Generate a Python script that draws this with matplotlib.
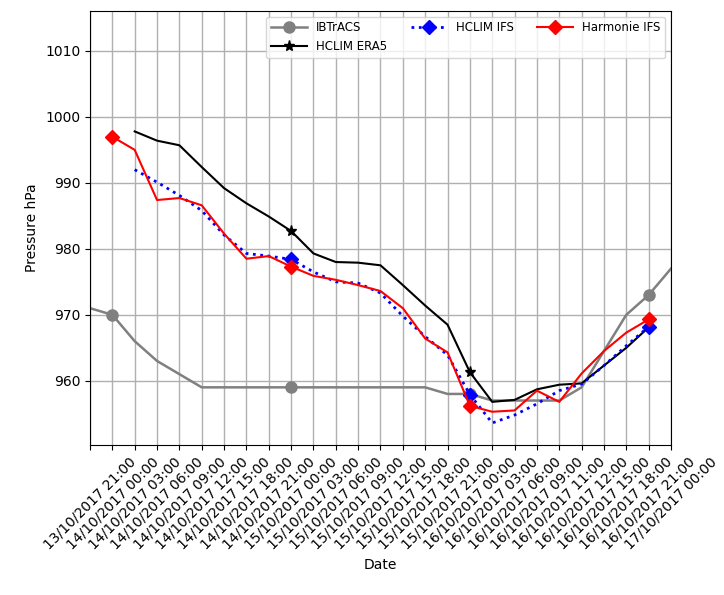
import matplotlib
matplotlib.use("Agg")
import matplotlib.pyplot as plt
import numpy as np

nan = np.nan

# Tick labels (categorical date axis)
dates = ["13/10/2017 21:00",
         "14/10/2017 00:00", "14/10/2017 03:00", "14/10/2017 06:00", "14/10/2017 09:00",
         "14/10/2017 12:00", "14/10/2017 15:00", "14/10/2017 18:00", "14/10/2017 21:00",
         "15/10/2017 00:00", "15/10/2017 03:00", "15/10/2017 06:00", "15/10/2017 09:00",
         "15/10/2017 12:00", "15/10/2017 15:00", "15/10/2017 18:00", "15/10/2017 21:00",
         "16/10/2017 00:00", "16/10/2017 03:00", "16/10/2017 06:00", "16/10/2017 09:00",
         "16/10/2017 11:00", "16/10/2017 12:00", "16/10/2017 15:00", "16/10/2017 18:00",
         "16/10/2017 21:00", "17/10/2017 00:00"]

# Minimum sea level pressure (hPa)
ibtracs = [971, 970, 966, 963, 961, 959, 959, 959, 959, 959, 959, 959, 959, 959,
           959, 959, 958, 958, 957, 957, 957, 957, 959, 964.5, 970, 973, 977]
hclim_era5 = [nan, nan, 997.8, 996.4, 995.7, 992.4, 989.2, 986.9, 984.9, 982.7,
              979.3, 978.0, 977.9, 977.5, 974.5, 971.4, 968.5, 961.3, 956.8, 957.1,
              958.7, 959.4, 959.6, 962.3, 965.0, 968.1, nan]
hclim_ifs = [nan, nan, 992.0, 990.1, 988.1, 985.8, 982.1, 979.3, 978.9, 978.4,
             976.5, 975.0, 974.8, 973.3, 969.8, 966.7, 963.9, 957.9, 953.6, 954.8,
             956.5, 958.5, 959.5, 962.3, 965.3, 968.2, nan]
harmonie_ifs = [nan, 997.0, 995.0, 987.4, 987.7, 986.6, 982.3, 978.5, 978.9, 977.3,
                975.9, 975.3, 974.5, 973.6, 971.0, 966.4, 964.3, 956.2, 955.3, 955.5,
                958.5, 956.8, 961.1, 964.5, 967.3, 969.3, nan]

x = np.arange(len(dates))
marks = [1, 9, 17, 25]

fig = plt.figure(figsize=(7.24, 5.95), dpi=100)
ax = fig.add_axes([0.1243, 0.252, 0.8025, 0.730])

ax.plot(x, ibtracs, "o-", color="grey", label="IBTrACS", linewidth=1.8, markersize=8, markevery=marks)
ax.plot(x, hclim_era5, "*-", color="black", label="HCLIM ERA5", linewidth=1.5, markersize=8, markevery=marks)
ax.plot(x, hclim_ifs, "D:", color="blue", label="HCLIM IFS", linewidth=2, markersize=7, markevery=marks)
ax.plot(x, harmonie_ifs, "D-", color="red", label="Harmonie IFS", linewidth=1.5, markersize=7, markevery=marks)

ax.set_xticks(x)
ax.set_xticklabels(dates, rotation=45)
ax.set_xlim(0, len(dates) - 1)
ax.set_ylim(950.25, 1016.1)
ax.set_yticks([960, 970, 980, 990, 1000, 1010])
ax.grid(True, color="#b0b0b0", linewidth=1)
ax.set_xlabel("Date")
ax.set_ylabel("Pressure hPa")
ax.legend(loc="upper right", ncol=3, fontsize=8.5, handlelength=3.0, columnspacing=2.0)

fig.savefig("out.png", dpi=100)
